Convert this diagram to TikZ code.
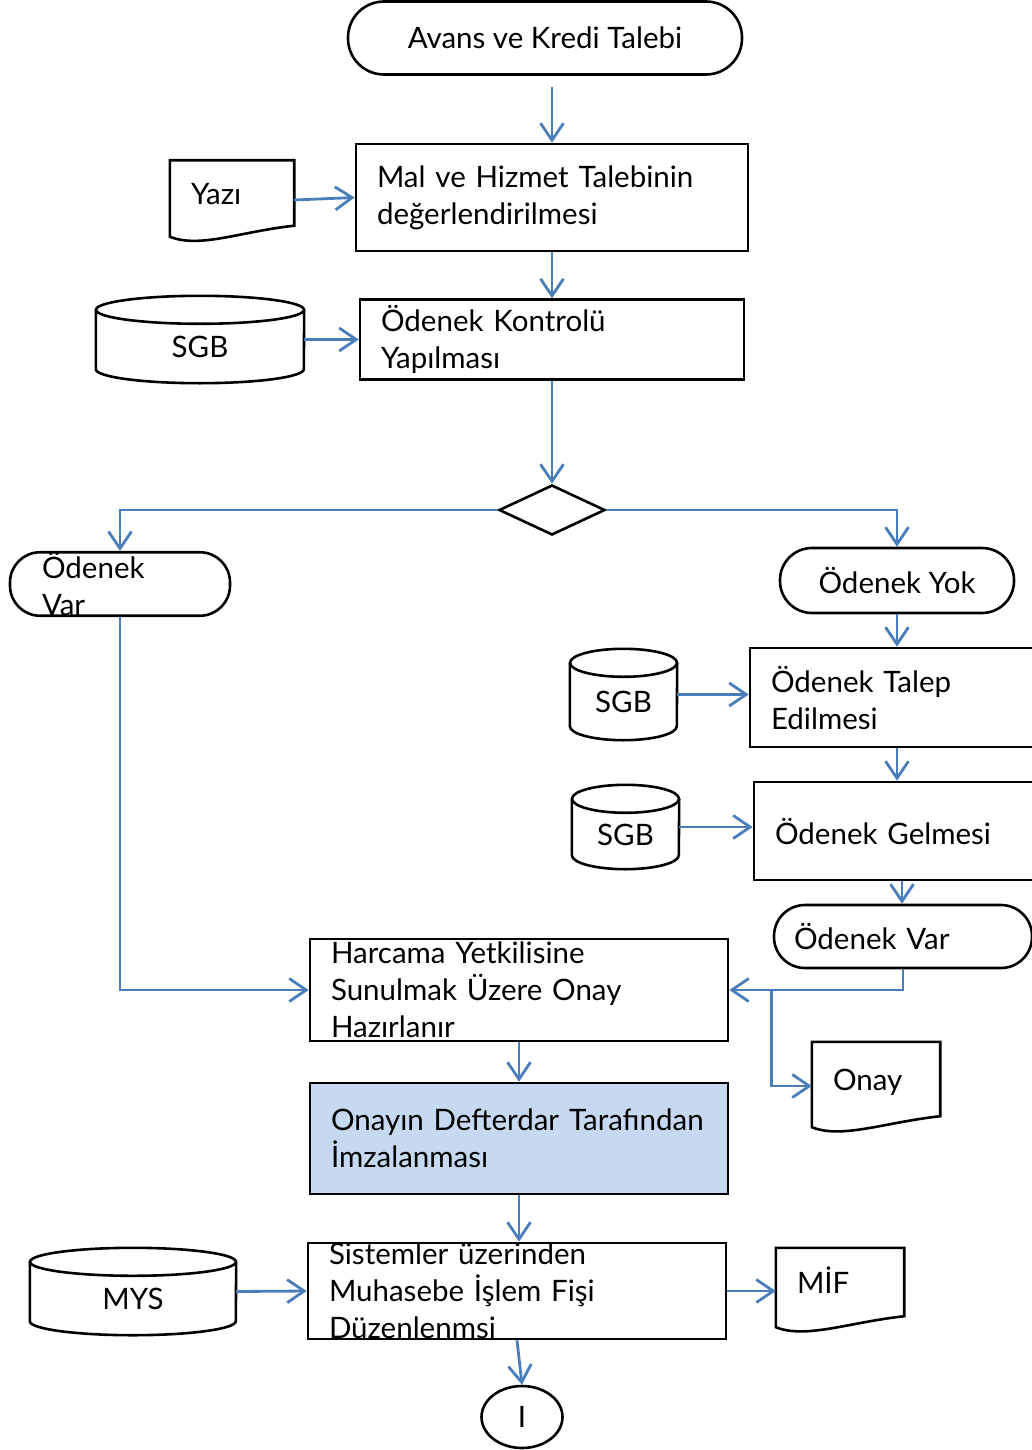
\documentclass[tikz,border=0pt]{standalone}
\usepackage{fontspec}
\setmainfont{Lato}
\usetikzlibrary{shapes.geometric, arrows.meta, positioning, calc}
\definecolor{flowblue}{HTML}{4A7EBB}
\definecolor{signfill}{HTML}{C6D9F1}

% document symbol round a named node
\newcommand{\docshape}[1]{%
  \draw[outline] ([yshift=3pt]#1.south west) -- (#1.north west) -- (#1.north east)
    -- ([yshift=14pt]#1.south east) .. controls +(-55pt,-6pt) and +(30pt,-12pt) .. ([yshift=3pt]#1.south west) -- cycle;}
% database symbol round a named node, #2 = half width
\newcommand{\dbshape}[2]{%
  \draw[outline] ([yshift=-14pt]#1.north west) -- ([yshift=14pt]#1.south west)
    arc[start angle=180, end angle=360, x radius=#2, y radius=14pt] -- ([yshift=-14pt]#1.north east);
  \draw[outline] ([yshift=-14pt]#1.north) ellipse[x radius=#2, y radius=14pt];}

\begin{document}
\begin{tikzpicture}[x=1pt, y=1pt,
    every node/.style={font=\fontsize{29.5}{37}\selectfont},
    outline/.style={draw, line width=2.6pt},
    proc/.style={outline, rectangle, align=left, inner xsep=21pt, inner ysep=0pt},
    term/.style={outline, rectangle, inner sep=0pt},
    paper/.style={rectangle, align=left, inner xsep=21pt, inner ysep=0pt, text height=20pt, text depth=11pt},
    store/.style={inner sep=0pt, text height=36pt, text depth=0pt},
    flow/.style={draw=flowblue, line width=2.8pt, -{Straight Barb[length=17pt, width=23pt]}}]

    \useasboundingbox (0,0) rectangle (1032,-1450);
    \clip (0,0) rectangle (1032,-1450);

    % main column
    \node[term, minimum width=394, minimum height=73, rounded corners=36pt] (start) at (545,-38) {Avans ve Kredi Talebi};
    \node[proc, minimum width=392, minimum height=107, text width=350] (mal) at (552,-197.5) {Mal ve Hizmet Talebinin\\değerlendirilmesi};
    \node[proc, below=46pt of mal, minimum width=384, minimum height=80, text width=342] (kontrol) {Ödenek Kontrolü\\Yapılması};
    \node[outline, diamond, minimum width=106, minimum height=50, inner sep=0pt] (karar) at (552,-510) {};

    % inputs on the left
    \node[paper, minimum width=124, minimum height=79, text width=82] (yazi) at (232,-200) {Yazı};
    \docshape{yazi}
    \node[store, minimum width=208, minimum height=87] (sgbA) at (200,-339.5) {SGB};
    \dbshape{sgbA}{104pt}

    % the two branches
    \node[term, minimum width=220, minimum height=60, rounded corners=30pt, text width=156, align=left, inner xsep=32pt] (varL) at (120,-584) {Ödenek\\Var};
    \node[term, minimum width=234, minimum height=65, rounded corners=32pt] (yok) at (897,-580.5) {Ödenek Yok};
    \node[proc, minimum width=300, minimum height=99, text width=258] (talep) at (900,-697.5) {Ödenek Talep\\Edilmesi};
    \node[store, minimum width=107, minimum height=91] (sgbB) at (623.5,-694.5) {SGB};
    \dbshape{sgbB}{53.5pt}
    \node[proc, minimum width=296, minimum height=98, text width=254] (gelme) at (902,-831) {Ödenek Gelmesi};
    \node[store, minimum width=107, minimum height=84] (sgbC) at (625.5,-827) {SGB};
    \dbshape{sgbC}{53.5pt}
    \node[term, minimum width=258, minimum height=63, rounded corners=31pt, text width=218, align=left, inner xsep=20pt] (varR) at (903,-936.5) {Ödenek Var};

    % lower column
    \node[proc, minimum width=418, minimum height=102, text width=376] (harcama) at (519,-990) {Harcama Yetkilisine\\Sunulmak Üzere Onay\\Hazırlanır};
    \node[paper, minimum width=128, minimum height=88, text width=86] (onay) at (876,-1086) {Onay};
    \docshape{onay}
    \node[proc, fill=signfill, minimum width=418, minimum height=111, text width=376] (defterdar) at (519,-1138.5) {Onayın Defterdar Tarafından\\İmzalanması};
    \node[proc, minimum width=418, minimum height=96, text width=376] (sistem) at (517,-1291) {Sistemler üzerinden\\Muhasebe İşlem Fişi\\Düzenlenmsi};
    \node[store, minimum width=206, minimum height=87] (mys) at (133,-1291.5) {MYS};
    \dbshape{mys}{103pt}
    \node[paper, minimum width=128, minimum height=82, text width=86] (mif) at (840,-1289) {MİF};
    \docshape{mif}
    \node[outline, ellipse, minimum width=81, minimum height=62, inner sep=0pt] (bag) at (522,-1417) {I};

    % connectors
    \draw[flow, shorten <=11pt] (start.south -| mal.north) -- (mal.north);
    \draw[flow] (yazi.east) -- (mal.west);
    \draw[flow] (mal.south) -- (mal.south |- kontrol.north);
    \draw[flow] (sgbA.east) -- (sgbA.east -| kontrol.west);
    \draw[flow] (karar.north |- kontrol.south) -- (karar.north);
    \draw[flow] (karar.west) -| (varL.north);
    \draw[flow] (karar.east) -| (yok.north);
    \draw[flow] (yok.south) -- (yok.south |- talep.north);
    \draw[flow] (sgbB.east) -- (sgbB.east -| talep.west);
    \draw[flow] (yok.south |- talep.south) -- (yok.south |- gelme.north);
    \draw[flow] (sgbC.east) -- (sgbC.east -| gelme.west);
    \draw[flow] (gelme.south) -- (gelme.south |- varR.north);
    \draw[flow] (varR.south) |- (harcama.east);
    \coordinate (split) at ($(harcama.east)+(42,0)$);
    \draw[flow] (split) |- (onay.west);
    \draw[flow] (varL.south) |- (harcama.west);
    \draw[flow] (harcama.south) -- (defterdar.north);
    \draw[flow] (defterdar.south) -- (defterdar.south |- sistem.north);
    \draw[flow] (mys.east) -- (sistem.west);
    \draw[flow] (sistem.east) -- (sistem.east -| mif.west);
    \draw[flow] (sistem.south) -- (bag.north);
\end{tikzpicture}
\end{document}
